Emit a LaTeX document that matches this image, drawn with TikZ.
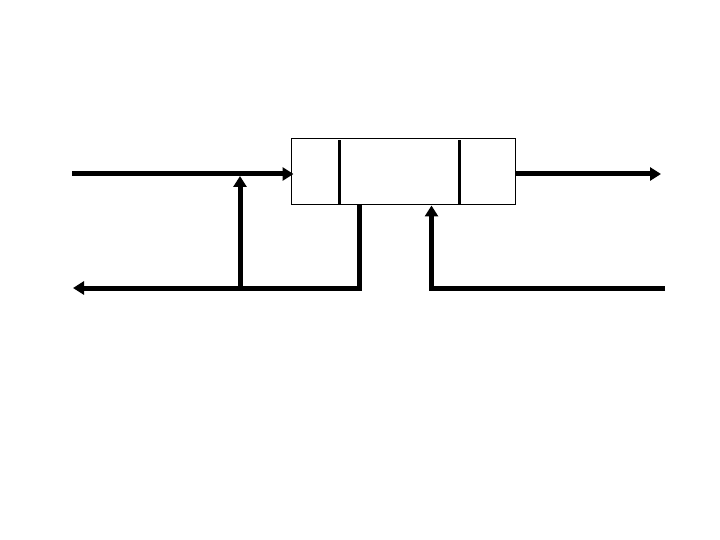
\documentclass[tikz,border=0pt]{standalone}
\usepackage{tikz}
\usetikzlibrary{arrows.meta, calc, positioning}

\begin{document}
\begin{tikzpicture}[x=1pt, y=-1pt,
    flow/.style={line width=5pt, -{Triangle[length=11pt, width=13pt]}},
    pipe/.style={line width=5pt},
    vessel/.style={draw, line width=1pt, minimum width=224pt, minimum height=66pt, inner sep=0pt}]
        \useasboundingbox (0,0) rectangle (720,540);

        % main vessel with its two inner walls
        \node[vessel] (tank) at (403,172) {};
        \draw[line width=2.2pt] ($(tank.north west)+(49,2)$) -- ($(tank.south west)+(49,-1)$);
        \draw[line width=2.2pt] ($(tank.north west)+(169,2)$) -- ($(tank.south west)+(169,-1)$);

        % free ends
        \coordinate (in) at (72,174);
        \coordinate (out) at (661,174);
        \coordinate (ret) at (73,288);
        \coordinate (feed) at (665,288);
        \coordinate (split) at (240,288);
        \coordinate (join) at (240,176);
        \coordinate (drain) at ($(tank.south west)+(69,0)$);
        \coordinate (back) at ($(tank.south west)+(141,0)$);

        % feed in and product out
        \draw[flow, shorten >=-3pt] (in) -- (in -| tank.west);
        \draw[flow] (out -| tank.east) -- (out);

        % recycle loop on the left
        \draw[flow] (drain) -- (drain |- ret) -- (ret);
        \draw[flow] (split) -- (join);

        % second stream from the right
        \draw[flow] (feed) -- (feed -| back) -- (back);
\end{tikzpicture}
\end{document}
